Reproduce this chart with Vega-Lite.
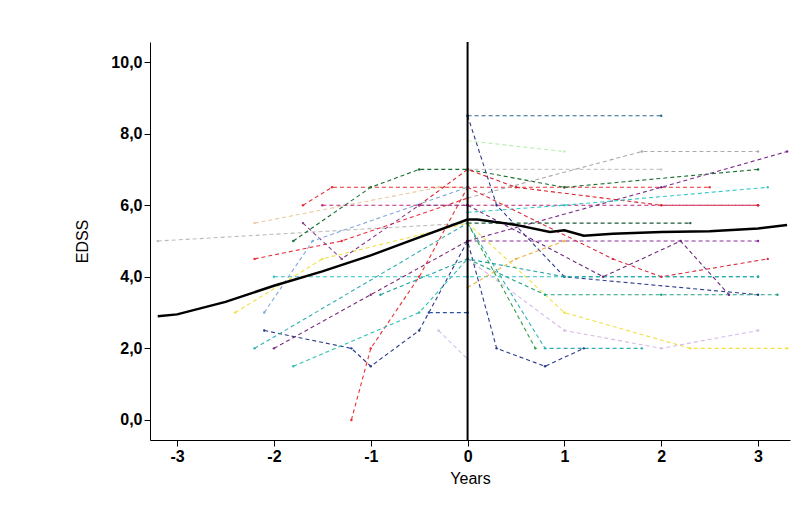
{"$schema":"https://vega.github.io/schema/vega-lite/v6.json","width":640,"height":398,"autosize":{"type":"none"},"padding":{"left":150,"top":42,"right":14,"bottom":81},"background":"white","config":{"view":{"stroke":null},"axis":{"labelFont":"Liberation Sans","titleFont":"Liberation Sans","labelColor":"#000","titleColor":"#000","domainColor":"#000","tickColor":"#000","grid":false,"labelFontSize":16,"titleFontSize":16,"labelFontWeight":"bold","titleFontWeight":"normal","tickSize":6}},
"datasets":{"p":[
{"id":"p1","x":-3.2,"y":5.0},{"id":"p1","x":0,"y":5.5},
{"id":"p2","x":-2.2,"y":5.5},{"id":"p2","x":-0.3,"y":6.5},{"id":"p2","x":0,"y":6.5},
{"id":"p3","x":-2.2,"y":4.5},{"id":"p3","x":-1.3,"y":5.0},{"id":"p3","x":0,"y":6.2},
{"id":"p4","x":-1.7,"y":6.0},{"id":"p4","x":-1.4,"y":6.5},{"id":"p4","x":0,"y":6.5},{"id":"p4","x":1,"y":6.5},{"id":"p4","x":2.5,"y":6.5},
{"id":"p5","x":-1.5,"y":6.0},{"id":"p5","x":0,"y":6.0},{"id":"p5","x":3,"y":6.0},
{"id":"p6","x":-1.8,"y":5.0},{"id":"p6","x":-1,"y":6.5},{"id":"p6","x":-0.5,"y":7.0},{"id":"p6","x":0,"y":7.0},{"id":"p6","x":1,"y":6.5},{"id":"p6","x":3,"y":7.0},
{"id":"p7","x":0,"y":8.5},{"id":"p7","x":2,"y":8.5},
{"id":"p8","x":0,"y":8.5},{"id":"p8","x":0.3,"y":6.0},{"id":"p8","x":1,"y":4.0},{"id":"p8","x":3,"y":3.5},
{"id":"p9","x":0,"y":7.8},{"id":"p9","x":1,"y":7.5},
{"id":"p10","x":0,"y":7.0},{"id":"p10","x":2,"y":7.0},
{"id":"p11","x":0,"y":6.2},{"id":"p11","x":1.8,"y":7.5},{"id":"p11","x":3,"y":7.5},
{"id":"p12","x":0,"y":5.0},{"id":"p12","x":2,"y":6.5},{"id":"p12","x":3.3,"y":7.5},
{"id":"p13","x":-0.5,"y":6.0},{"id":"p13","x":0,"y":7.0},{"id":"p13","x":0.5,"y":6.5},{"id":"p13","x":2,"y":6.0},{"id":"p13","x":3,"y":6.0},
{"id":"p14","x":0,"y":5.8},{"id":"p14","x":1,"y":6.0},{"id":"p14","x":3.1,"y":6.5},
{"id":"p15","x":0,"y":5.5},{"id":"p15","x":2.3,"y":5.5},
{"id":"p16","x":0,"y":5.0},{"id":"p16","x":3,"y":5.0},
{"id":"p17","x":0,"y":6.5},{"id":"p17","x":1.5,"y":4.5},{"id":"p17","x":2,"y":4.0},{"id":"p17","x":3.1,"y":4.5},
{"id":"p18","x":0,"y":4.5},{"id":"p18","x":0.8,"y":3.5},{"id":"p18","x":2,"y":3.5},{"id":"p18","x":3.2,"y":3.5},
{"id":"p19","x":-2,"y":4.0},{"id":"p19","x":0,"y":4.0},{"id":"p19","x":3,"y":4.0},
{"id":"p20","x":-2.4,"y":3.0},{"id":"p20","x":-1.5,"y":4.5},{"id":"p20","x":0,"y":5.5},{"id":"p20","x":1,"y":3.0},{"id":"p20","x":2.3,"y":2.0},{"id":"p20","x":3.3,"y":2.0},
{"id":"p21","x":0,"y":4.5},{"id":"p21","x":1,"y":2.5},{"id":"p21","x":2,"y":2.0},{"id":"p21","x":3,"y":2.5},
{"id":"p22","x":-2.1,"y":2.5},{"id":"p22","x":-1.2,"y":2.0},{"id":"p22","x":-1,"y":1.5},{"id":"p22","x":-0.5,"y":2.5},{"id":"p22","x":0,"y":5.0},{"id":"p22","x":0.3,"y":2.0},{"id":"p22","x":0.8,"y":1.5},{"id":"p22","x":1.2,"y":2.0},
{"id":"p23","x":-2.2,"y":2.0},{"id":"p23","x":0,"y":5.5},{"id":"p23","x":0.8,"y":2.0},{"id":"p23","x":1.8,"y":2.0},
{"id":"p24","x":-1.2,"y":0.0},{"id":"p24","x":-1,"y":2.0},{"id":"p24","x":-0.5,"y":4.0},{"id":"p24","x":0,"y":6.5},
{"id":"p25","x":-2,"y":2.0},{"id":"p25","x":-1,"y":3.5},{"id":"p25","x":0,"y":5.0},
{"id":"p26","x":-1.8,"y":1.5},{"id":"p26","x":-0.5,"y":3.0},{"id":"p26","x":0,"y":4.5},
{"id":"p27","x":-0.4,"y":3.0},{"id":"p27","x":0,"y":3.0},
{"id":"p28","x":-1.7,"y":5.5},{"id":"p28","x":-1.3,"y":4.5},{"id":"p28","x":-0.5,"y":6.0},{"id":"p28","x":0,"y":6.0},
{"id":"p29","x":-2.1,"y":3.0},{"id":"p29","x":-1.6,"y":5.0},{"id":"p29","x":0,"y":6.5},
{"id":"p30","x":0,"y":6.0},{"id":"p30","x":1.4,"y":4.0},{"id":"p30","x":2.2,"y":5.0},{"id":"p30","x":2.7,"y":3.5},
{"id":"p31","x":0,"y":3.7},{"id":"p31","x":0.5,"y":4.5},{"id":"p31","x":1,"y":5.0},
{"id":"p32","x":0,"y":5.5},{"id":"p32","x":0.7,"y":2.0},
{"id":"p33","x":-0.3,"y":2.5},{"id":"p33","x":0,"y":1.7},
{"id":"p34","x":-0.9,"y":3.5},{"id":"p34","x":0,"y":4.5},{"id":"p34","x":1,"y":4.0},{"id":"p34","x":3,"y":4.0}
],"m":[
{"x":-3.2,"y":2.9},{"x":-3,"y":2.95},{"x":-2.5,"y":3.3},{"x":-2,"y":3.75},{"x":-1.5,"y":4.15},{"x":-1,"y":4.6},{"x":-0.5,"y":5.1},{"x":0,"y":5.6},{"x":0.1,"y":5.6},{"x":0.5,"y":5.45},{"x":0.85,"y":5.25},{"x":1,"y":5.3},{"x":1.2,"y":5.15},{"x":1.5,"y":5.2},{"x":2,"y":5.25},{"x":2.5,"y":5.27},{"x":3,"y":5.35},{"x":3.3,"y":5.45}
],"v":[{"x":0}]},
"layer":[
{"data":{"name":"p"},"mark":{"type":"line","strokeDash":[4,3],"strokeWidth":1.1,"point":{"size":6,"filled":true}},"encoding":{
"x":{"field":"x","type":"quantitative","scale":{"domain":[-3.28,3.33],"nice":false,"zero":false},"axis":{"values":[-3,-2,-1,0,1,2,3],"title":"Years","titlePadding":6,"labelExpr":"replace(format(datum.value,'d'),'−','-')"}},
"y":{"field":"y","type":"quantitative","scale":{"domain":[-0.56,10.56],"nice":false},"axis":{"values":[0,2,4,6,8,10],"title":"EDSS","labelExpr":"replace(format(datum.value,'.1f'),'.',',')","titlePadding":20}},
"color":{"field":"id","type":"nominal","legend":null,"scale":{"domain":["p1","p2","p3","p4","p5","p6","p7","p8","p9","p10","p11","p12","p13","p14","p15","p16","p17","p18","p19","p20","p21","p22","p23","p24","p25","p26","p27","p28","p29","p30","p31","p32","p33","p34"],"range":["#bbbbbb","#e8c9a0","#e8303a","#e8303a","#c0257a","#1a6e30","#2a6a8a","#2c3a8c","#b8f0b0","#c8c8c8","#aaaaaa","#7a2a8a","#d8202a","#30c8c8","#1a5a3a","#8a2a9a","#d83040","#20a080","#30c0c0","#f0e040","#d8b8e8","#2a3a8a","#30b0b0","#e83030","#7a2a7a","#30c0b0","#3050a0","#8a3a8a","#80a8d8","#6a2a7a","#f0b040","#30a040","#d0c0e8","#20a0a0"]}},
"detail":{"field":"id"},"order":{"field":"x"}}},
{"data":{"name":"m"},"mark":{"type":"line","color":"#000","strokeWidth":2.5},"encoding":{"x":{"field":"x","type":"quantitative"},"y":{"field":"y","type":"quantitative"},"order":{"field":"x"}}},
{"data":{"name":"v"},"mark":{"type":"rule","color":"#000","strokeWidth":2},"encoding":{"x":{"field":"x","type":"quantitative"}}}
]}
